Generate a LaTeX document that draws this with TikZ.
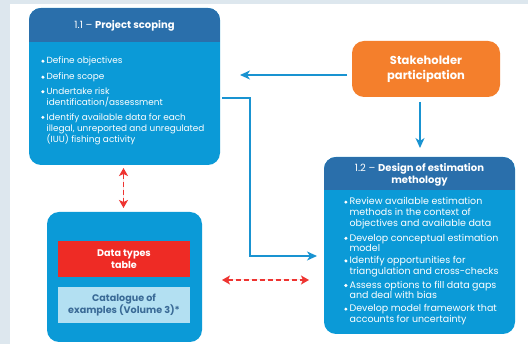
\documentclass[tikz,border=0pt]{standalone}
\usepackage{fontspec}
\setmainfont{Poppins}
\usetikzlibrary{arrows.meta,calc}

\definecolor{hdrblue}{HTML}{2A6FAB}
\definecolor{boxblue}{HTML}{0B9AD7}
\definecolor{lineblue}{HTML}{1993D1}
\definecolor{stakeorange}{HTML}{F47F2C}
\definecolor{tablered}{HTML}{EE2B25}
\definecolor{catbg}{HTML}{B3E0F2}
\definecolor{cattxt}{HTML}{3A6A96}
\definecolor{linkred}{HTML}{EE3431}
\definecolor{pagebg}{HTML}{DDE7EE}

\newcommand{\blt}{\tikz[x=1pt,y=1pt,baseline=0pt]\fill[white] (1.7,2.8) circle (1.7pt);\hspace{2pt}}
\newcommand{\bsp}{\hspace{5.4pt}}

\begin{document}
\begin{tikzpicture}[x=1pt, y=-1pt,
    box/.style={rectangle, rounded corners=12pt, fill=boxblue, inner sep=0pt, outer sep=0pt},
    inbox/.style={rectangle, inner sep=0pt, minimum width=132pt, minimum height=36pt, align=center, font=\bfseries\fontsize{9.6}{12}\selectfont},
    flow/.style={draw=lineblue, line width=1.5pt, -{Stealth[length=10pt,width=9pt,inset=3pt]}},
    link/.style={draw=linkred, fill=linkred, line width=1.3pt, dash pattern=on 5pt off 3pt, {Stealth[length=8pt,width=9pt,inset=2pt]}-{Stealth[length=8pt,width=9pt,inset=2pt]}},
    txt/.style={text=white, font=\fontsize{8.9}{11}\selectfont, align=left, anchor=north west, inner sep=0pt}]
    % Sfondo
    \fill[pagebg] (0,0) rectangle (528,344);
    \fill[white] (10,4) rectangle (528,344);
    % Riquadri
    \node[box, minimum width=191pt, minimum height=157pt] (p11) at (124.5,86.5) {};
    \node[box, minimum width=191pt, minimum height=177pt] (p12) at (419.5,245.5) {};
    \node[box, minimum width=155pt, minimum height=130pt] (data) at (124.5,277) {};
    \node[box, fill=stakeorange, minimum width=148pt, minimum height=56pt, text=white,
          font=\bfseries\fontsize{11.5}{15}\selectfont, align=center] (stake) at (426,69) {Stakeholder\\participation};
    % Intestazioni
    \begin{scope}
        \clip[rounded corners=12pt] (p11.south west) rectangle (p11.north east);
        \fill[hdrblue] (p11.north west) rectangle ($(p11.north east)+(0,34)$);
    \end{scope}
    \begin{scope}
        \clip[rounded corners=12pt] (p12.south west) rectangle (p12.north east);
        \fill[hdrblue] (p12.north west) rectangle ($(p12.north east)+(0,33)$);
    \end{scope}
    \node[text=white, font=\fontsize{10}{12}\selectfont] (h11) at (124.5,25.5) {1.1 -- \textbf{Project scoping}};
    \node[text=white, font=\fontsize{10}{12}\selectfont, align=center] (h12) at (419.5,174.5)
        {1.2 -- \textbf{Design of estimation}\\\textbf{methology}};
    % Testi
    \node[txt] (t11) at (41,57) {\blt Define objectives\\[5pt]
        \blt Define scope\\[3.6pt]
        \blt Undertake risk\\ \bsp identification/assessment\\[3.6pt]
        \blt Identify available data for each\\ \bsp illegal, unreported and unregulated\\ \bsp (IUU) fishing activity};
    \node[txt, font=\fontsize{9.5}{10.6}\selectfont] (t12) at (344,197.5) {\blt Review available estimation\\ \bsp methods in the context of\\ \bsp objectives and available data\\[4.4pt]
        \blt Develop conceptual estimation\\ \bsp model\\[1.4pt]
        \blt Identify opportunities for\\ \bsp triangulation and cross-checks\\[3.4pt]
        \blt Assess options to fill data gaps\\ \bsp and deal with bias\\[2.4pt]
        \blt Develop model framework that\\ \bsp accounts for uncertainty};
    \node[inbox, fill=tablered, text=white] (table) at (124,259) {Data types\\table};
    \node[inbox, fill=catbg, text=cattxt] (cat) at (124,305) {Catalogue of\\examples (Volume 3)*};
    % Frecce
    \draw[flow, shorten <=5pt, shorten >=20pt] ([yshift=-6pt]stake.west) -- ([yshift=-6pt]stake.west -| p11.east);
    \draw[flow, shorten <=5pt, shorten >=9pt] ([xshift=-6pt]stake.south) -- ([xshift=-6pt]stake.south |- p12.north);
    \draw[flow, shorten <=2pt, shorten >=7pt] ([yshift=-11.5pt]p11.east) -- ++(30,0) |- ([yshift=-10.5pt]p12.west);
    \draw[link, shorten <=3pt, shorten >=4pt] ([xshift=-1pt]p11.south) -- ([xshift=-1pt]data.north);
    \draw[link, shorten <=20pt, shorten >=15pt] ([yshift=-3pt]data.east) -- ([yshift=-3pt]data.east -| p12.west);
\end{tikzpicture}
\end{document}
